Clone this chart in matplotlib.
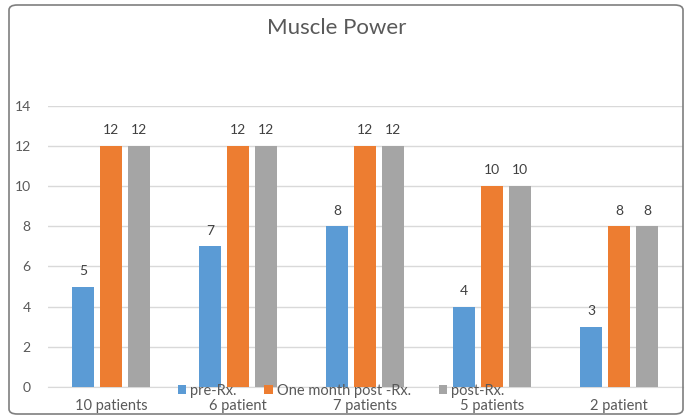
import numpy as np
import matplotlib.pyplot as plt
from matplotlib.patches import FancyBboxPatch, Patch

plt.rcParams['font.family'] = ['Lato', 'DejaVu Sans']

groups = ['10 patients', '6 patient', '7 patients', '5 patients', '2 patient']
pre_rx = [5, 7, 8, 4, 3]
one_month = [12, 12, 12, 10, 8]
post_rx = [12, 12, 12, 10, 8]
series_names = ['pre-Rx.', 'One month post -Rx.', 'post-Rx.']
colors = ['#5b9bd5', '#ed7d31', '#a5a5a5']

fig = plt.figure(figsize=(6.91, 4.19), dpi=100)
ax = fig.add_axes([47.5 / 691, 1 - 387 / 419, 635 / 691, (387 - 105.7) / 419])

x = np.arange(len(groups))
width = 0.175
step = 0.22
for i, (vals, c) in enumerate(zip([pre_rx, one_month, post_rx], colors)):
    bars = ax.bar(x + (i - 1) * step, vals, width, color=c, zorder=3)
    for b, v in zip(bars, vals):
        ax.annotate(str(v), (b.get_x() + b.get_width() / 2, v),
                    xytext=(0, 7), textcoords='offset points',
                    ha='center', va='bottom', fontsize=10, color='#404040')

ax.set_xlim(-0.5, len(groups) - 0.5)
ax.set_ylim(0, 14)
ax.set_yticks(range(0, 15, 2))
ax.set_xticks(x)
ax.set_xticklabels(groups)
ax.yaxis.grid(True, color='#d9d9d9', linewidth=1, zorder=0)
for s in ['top', 'right', 'left']:
    ax.spines[s].set_visible(False)
ax.spines['bottom'].set_color('#d9d9d9')
ax.tick_params(axis='both', length=0, colors='#595959', labelsize=10)
ax.tick_params(axis='x', labelsize=10.5, pad=8.5)
ax.tick_params(axis='y', pad=12)

fig.text(337 / 691, 1 - 28 / 419, 'Muscle Power', ha='center', va='center',
         fontsize=16, color='#595959')

handles = [Patch(facecolor=c, label=n) for c, n in zip(colors, series_names)]
fig.legend(handles=handles, loc='center', bbox_to_anchor=(341 / 691, 1 - 391 / 419),
           ncol=3, frameon=False, fontsize=10.5, handlelength=0.6, handleheight=0.6,
           handletextpad=0.25, columnspacing=1.9, labelcolor='#595959',
           borderpad=0, borderaxespad=0)

border = FancyBboxPatch((9 / 691, 5 / 419), 674 / 691, 409 / 419,
                        boxstyle='round,pad=0,rounding_size=0.012',
                        transform=fig.transFigure, facecolor='none',
                        edgecolor='#7f7f7f', linewidth=1.2)
fig.patches.append(border)

fig.savefig('out.png', dpi=100)
